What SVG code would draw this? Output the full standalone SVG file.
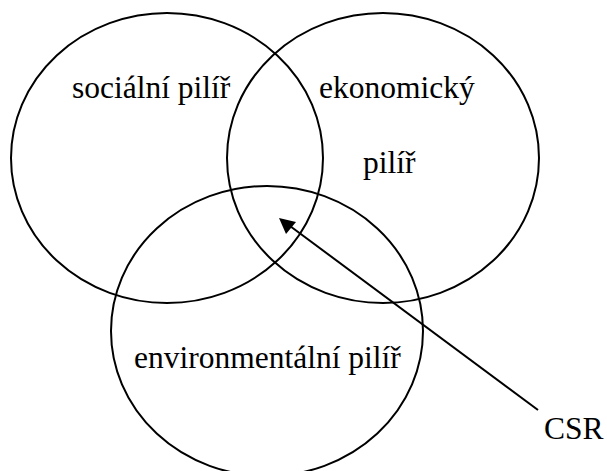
<svg xmlns="http://www.w3.org/2000/svg" width="607" height="471" viewBox="0 0 607 471">
<style>
.c{fill:none;stroke:#000;stroke-width:2}
.t{font-family:"Liberation Serif","Times New Roman",serif;font-size:31.5px;fill:#000}
.ln{stroke:#000;stroke-width:2;fill:none}
</style>
<rect width="607" height="471" fill="#fff"/>
<g id="social">
<ellipse class="c" cx="167" cy="158" rx="156" ry="145"/>
<text class="t" x="72" y="98">sociální pilíř</text>
</g>
<g id="economic">
<ellipse class="c" cx="383" cy="158" rx="156" ry="145"/>
<text class="t" x="319" y="98">ekonomický</text>
<text class="t" x="363" y="173">pilíř</text>
</g>
<g id="environmental">
<ellipse class="c" cx="267" cy="331" rx="156" ry="145"/>
<text class="t" x="134" y="368">environmentální pilíř</text>
</g>
<g id="csr">
<text class="t" x="544" y="439">CSR</text>
</g>
<g id="connectors">
<line class="ln" x1="538" y1="410" x2="290" y2="226"/>
<path d="M279,218 L296,222 L286,234 z" fill="#000"/>
</g>
</svg>
